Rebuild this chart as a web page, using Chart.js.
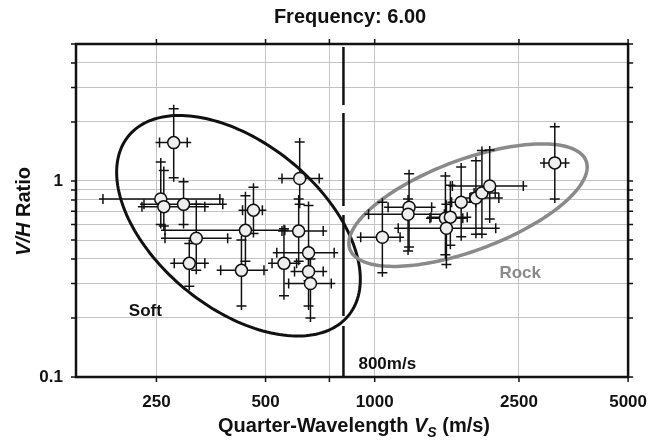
<!DOCTYPE html>
<html>
<head>
<meta charset="utf-8">
<script src="https://cdn.jsdelivr.net/npm/chart.js@4.4.0/dist/chart.umd.min.js"></script>
<style>
  html, body { margin: 0; padding: 0; background: #fff; }
</style>
</head>
<body>
<canvas id="myChart" width="662" height="440"></canvas>
<script>
// soft sites
const softVs    = [279, 257, 262, 297, 322, 308, 463, 440, 617, 429, 621, 562, 657, 657, 665];
const softVsLo  = [255, 178, 228, 231, 264, 280, 432, 264, 555, 376, 555, 521, 537, 601, 579];
const softVsHi  = [304, 374, 340, 381, 393, 340, 490, 565, 721, 495, 703, 609, 773, 721, 759];
const softVH    = [1.57, 0.81, 0.74, 0.76, 0.51, 0.38, 0.71, 0.56, 0.555, 0.35, 1.03, 0.38, 0.43, 0.345, 0.30];
const softVHLo  = [1.04, 0.60, 0.59, 0.60, 0.35, 0.29, 0.54, 0.39, 0.39, 0.23, 0.76, 0.26, 0.31, 0.23, 0.20];
const softVHHi  = [2.34, 1.25, 1.13, 0.99, 0.76, 0.48, 0.93, 0.84, 0.81, 0.50, 1.58, 0.57, 0.75, 0.45, 0.40];

// rock sites
const rockVs    = [1050, 1244, 1236, 1567, 1617, 1577, 1732, 1902, 1976, 2076, 3139];
const rockVsLo  = [915, 1089, 962, 1420, 1430, 1161, 1630, 1830, 1880, 1638, 2931];
const rockVsHi  = [1175, 1436, 1557, 1750, 1800, 2157, 1900, 2200, 2150, 2570, 3361];
const rockVH    = [0.516, 0.735, 0.677, 0.646, 0.654, 0.574, 0.78, 0.818, 0.868, 0.943, 1.237];
const rockVHLo  = [0.34, 0.46, 0.44, 0.42, 0.47, 0.375, 0.52, 0.535, 0.535, 0.64, 0.81];
const rockVHHi  = [0.78, 1.09, 0.81, 1.06, 0.95, 0.76, 1.18, 1.27, 1.43, 1.44, 1.89];

const xTicks = [250, 500, 750, 1000, 2500, 5000];
const xLabels = [250, 500, 1000, 2500, 5000];
const yTicks = [0.1, 0.2, 0.3, 0.4, 0.5, 0.6, 0.7, 0.8, 0.9, 1, 2, 3, 4, 5];
const yLabels = [0.1, 1];

const vsBoundary = 820;

// ellipses: centre (Vs, V/H) and half axes in log10 units
const softEllipse = { c: [421, 0.591], u: [0.306, -0.452], w: [-0.139, -0.335], color: '#111', width: 3 };
const rockEllipse = { c: [1809, 0.753], u: [0.326, 0.224], w: [0.042, -0.218], color: '#8a8a8a', width: 3.5 };

const FONT = '"Liberation Sans", Arial, sans-serif';

function pts(vs, vh) {
  return vs.map((v, i) => ({ x: v, y: vh[i] }));
}

const groups = [
  { vs: softVs, lo: softVsLo, hi: softVsHi, vh: softVH, vlo: softVHLo, vhi: softVHHi },
  { vs: rockVs, lo: rockVsLo, hi: rockVsHi, vh: rockVH, vlo: rockVHLo, vhi: rockVHHi }
];

const ellipses = {
  id: 'ellipses',
  beforeDatasetsDraw(chart) {
    const ctx = chart.ctx, xs = chart.scales.x, ys = chart.scales.y;
    ctx.save();
    [softEllipse, rockEllipse].forEach(e => {
      const lx = Math.log10(e.c[0]), ly = Math.log10(e.c[1]);
      ctx.beginPath();
      for (let k = 0; k <= 180; k++) {
        const t = k / 180 * Math.PI * 2;
        const a = lx + e.u[0] * Math.cos(t) + e.w[0] * Math.sin(t);
        const b = ly + e.u[1] * Math.cos(t) + e.w[1] * Math.sin(t);
        const px = xs.getPixelForValue(Math.pow(10, a));
        const py = ys.getPixelForValue(Math.pow(10, b));
        if (k === 0) ctx.moveTo(px, py); else ctx.lineTo(px, py);
      }
      ctx.closePath();
      ctx.strokeStyle = e.color;
      ctx.lineWidth = e.width;
      ctx.stroke();
    });
    ctx.restore();
  }
};

const errorBars = {
  id: 'errorBars',
  beforeDatasetsDraw(chart) {
    const ctx = chart.ctx, xs = chart.scales.x, ys = chart.scales.y;
    ctx.save();
    ctx.strokeStyle = '#111';
    ctx.lineWidth = 1.5;
    groups.forEach(g => {
      g.vs.forEach((v, i) => {
        const px = xs.getPixelForValue(v), py = ys.getPixelForValue(g.vh[i]);
        const x0 = xs.getPixelForValue(g.lo[i]), x1 = xs.getPixelForValue(g.hi[i]);
        const y0 = ys.getPixelForValue(g.vlo[i]), y1 = ys.getPixelForValue(g.vhi[i]);
        ctx.beginPath();
        ctx.moveTo(x0 - 4, py); ctx.lineTo(x1 + 4, py);
        ctx.moveTo(px, y1 - 4); ctx.lineTo(px, y0 + 4);
        ctx.moveTo(x0, py - 5); ctx.lineTo(x0, py + 5);
        ctx.moveTo(x1, py - 5); ctx.lineTo(x1, py + 5);
        ctx.moveTo(px - 5, y1); ctx.lineTo(px + 5, y1);
        ctx.moveTo(px - 5, y0); ctx.lineTo(px + 5, y0);
        ctx.stroke();
      });
    });
    ctx.restore();
  }
};

const decor = {
  id: 'decor',
  afterDatasetsDraw(chart) {
    const ctx = chart.ctx, a = chart.chartArea, xs = chart.scales.x, ys = chart.scales.y;
    // boundary line
    const bx = xs.getPixelForValue(vsBoundary);
    ctx.save();
    ctx.strokeStyle = '#111';
    ctx.lineWidth = 2.5;
    ctx.setLineDash([58, 8, 93, 9, 101, 10, 70]);
    ctx.beginPath();
    ctx.moveTo(bx, a.top + 3);
    ctx.lineTo(bx, a.bottom);
    ctx.stroke();
    ctx.setLineDash([]);

    // frame
    ctx.lineWidth = 2.5;
    ctx.strokeRect(a.left, a.top, a.right - a.left, a.bottom - a.top);
    // tick marks, outward on all sides
    ctx.lineWidth = 1.5;
    ctx.beginPath();
    xTicks.forEach(v => {
      const px = xs.getPixelForValue(v);
      ctx.moveTo(px, a.top); ctx.lineTo(px, a.top - 5);
      ctx.moveTo(px, a.bottom); ctx.lineTo(px, a.bottom + 5);
    });
    yTicks.forEach(v => {
      const py = ys.getPixelForValue(v);
      ctx.moveTo(a.left, py); ctx.lineTo(a.left - 5, py);
      ctx.moveTo(a.right, py); ctx.lineTo(a.right + 5, py);
    });
    ctx.stroke();

    // annotations
    ctx.textBaseline = 'alphabetic';
    ctx.font = 'bold 17px ' + FONT;
    ctx.fillStyle = '#111';
    ctx.textAlign = 'center';
    ctx.fillText('Soft', xs.getPixelForValue(233), ys.getPixelForValue(0.22) + 6);
    ctx.fillStyle = '#8a8a8a';
    ctx.fillText('Rock', xs.getPixelForValue(2520), ys.getPixelForValue(0.345) + 6);
    ctx.fillStyle = '#111';
    ctx.font = 'bold 17px ' + FONT;
    ctx.textAlign = 'left';
    ctx.fillText('800m/s', bx + 15, a.bottom - 8);

    // title
    const cx = (a.left + a.right) / 2;
    ctx.textAlign = 'center';
    ctx.font = 'bold 20px ' + FONT;
    ctx.fillText('Frequency: 6.00', cx - 2, 23);

    // x axis title with italic V and subscript S
    const parts = [
      { t: 'Quarter-Wavelength ', f: 'bold 20px ' + FONT, dy: 0 },
      { t: 'V', f: 'italic bold 20px ' + FONT, dy: 0 },
      { t: 'S', f: 'italic bold 14px ' + FONT, dy: 5 },
      { t: ' (m/s)', f: 'bold 20px ' + FONT, dy: 0 }
    ];
    let total = 0;
    parts.forEach(p => { ctx.font = p.f; p.w = ctx.measureText(p.t).width; total += p.w; });
    let sx = cx + 2 - total / 2;
    ctx.textAlign = 'left';
    parts.forEach(p => { ctx.font = p.f; ctx.fillText(p.t, sx, 432 + p.dy); sx += p.w; });

    // y axis title
    ctx.translate(24, (a.top + a.bottom) / 2 + 1);
    ctx.rotate(-Math.PI / 2);
    ctx.textBaseline = 'middle';
    const yp = [
      { t: 'V/H', f: 'italic bold 20px ' + FONT },
      { t: ' Ratio', f: 'bold 20px ' + FONT }
    ];
    total = 0;
    yp.forEach(p => { ctx.font = p.f; p.w = ctx.measureText(p.t).width; total += p.w; });
    sx = -total / 2;
    yp.forEach(p => { ctx.font = p.f; ctx.fillText(p.t, sx, 0); sx += p.w; });
    ctx.restore();
  }
};

const pointStyle = {
  type: 'scatter',
  pointRadius: 6,
  pointHoverRadius: 6,
  pointBackgroundColor: '#eeeeee',
  pointBorderColor: '#111',
  pointBorderWidth: 1.5,
  showLine: false
};

const data = {
  datasets: [
    Object.assign({ label: 'Soft', data: pts(softVs, softVH) }, pointStyle),
    Object.assign({ label: 'Rock', data: pts(rockVs, rockVH) }, pointStyle)
  ]
};

const config = {
  type: 'scatter',
  data: data,
  options: {
    responsive: false,
    animation: false,
    devicePixelRatio: 1,
    layout: { padding: { top: 44, right: 28, left: 0, bottom: 0 } },
    plugins: {
      legend: { display: false },
      tooltip: { enabled: false },
      title: { display: false }
    },
    scales: {
      x: {
        type: 'logarithmic',
        min: 150,
        max: 5000,
        afterBuildTicks: s => { s.ticks = xTicks.map(v => ({ value: v })); },
        afterFit: s => { s.height = 63; },
        ticks: {
          padding: 15,
          autoSkip: false,
          maxRotation: 0,
          color: '#111',
          font: { family: FONT, size: 17, weight: 'bold' },
          callback: v => xLabels.includes(v) ? String(v) : ''
        },
        grid: { color: '#c4c4c4', lineWidth: 1, drawTicks: false },
        border: { display: false }
      },
      y: {
        type: 'logarithmic',
        min: 0.1,
        max: 5,
        afterBuildTicks: s => { s.ticks = yTicks.map(v => ({ value: v })); },
        afterFit: s => { s.width = 76; },
        ticks: {
          padding: 13,
          autoSkip: false,
          color: '#111',
          font: { family: FONT, size: 17, weight: 'bold' },
          callback: v => yLabels.includes(v) ? String(v) : ''
        },
        grid: { color: '#c4c4c4', lineWidth: 1, drawTicks: false },
        border: { display: false }
      }
    }
  },
  plugins: [ellipses, errorBars, decor]
};

const myChart = new Chart(
  document.getElementById('myChart'),
  config
);
</script>
</body>
</html>
